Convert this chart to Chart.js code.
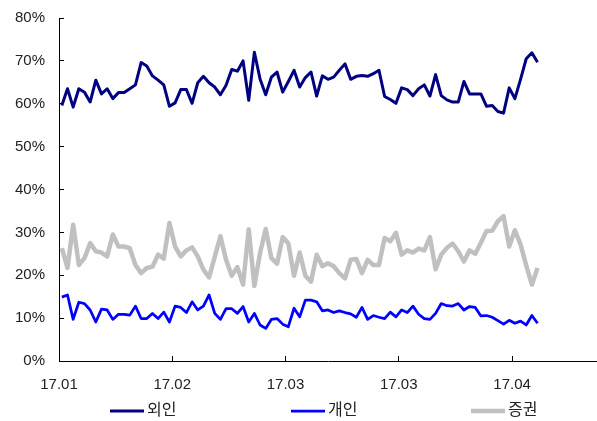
<!DOCTYPE html>
<html>
<head>
<meta charset="utf-8">
<script src="https://cdn.jsdelivr.net/npm/chart.js@4.4.1/dist/chart.umd.min.js"></script>
<style>
  html, body { margin: 0; padding: 0; background: #ffffff; }
  #wrap { width: 597px; height: 421px; }
</style>
</head>
<body>
<div id="wrap"><canvas id="c" width="597" height="421"></canvas></div>
<script>
// Axis ticks (category index where each month label sits) and their labels
const tickPositions = [0, 20, 40, 60, 80];
const tickLabels = ['17.01', '17.02', '17.03', '17.03', '17.04'];
const categoryCount = 95;

// Series names
const seriesNames = ['외인', '개인', '증권'];

// Daily share by investor type, %
const foreign = [
  59.6, 63.5, 59.2, 63.5, 62.7, 60.4, 65.5, 62.3, 63.5, 61.2,
  62.6, 62.6, 63.5, 64.4, 69.6, 68.8, 66.5, 65.5, 64.4, 59.4,
  60.2, 63.3, 63.3, 60.1, 64.9, 66.4, 64.9, 63.9, 62.1, 64.3,
  68.0, 67.6, 70.0, 60.8, 72.0, 65.8, 62.1, 66.2, 67.4, 62.7,
  65.2, 67.8, 63.9, 66.1, 67.4, 61.8, 66.5, 65.7, 66.2, 67.8,
  69.3, 65.7, 66.4, 66.6, 66.4, 67.0, 67.8, 61.7, 61.0, 60.1,
  63.7, 63.3, 61.9, 63.5, 64.4, 61.8, 66.8, 61.9, 60.9, 60.4,
  60.4, 65.2, 62.3, 62.3, 62.3, 59.4, 59.6, 58.2, 57.8, 63.7,
  61.2, 65.7, 70.5, 71.9, 69.7
];
const individual = [
  14.9, 15.4, 9.7, 13.7, 13.4, 11.9, 9.1, 12.1, 11.9, 9.7,
  10.9, 10.9, 10.7, 12.8, 9.9, 9.9, 11.1, 9.9, 11.4, 9.1,
  12.8, 12.5, 11.3, 13.8, 11.9, 12.8, 15.4, 11.1, 9.7, 12.2,
  12.2, 11.1, 12.7, 9.1, 11.1, 8.4, 7.6, 9.7, 9.9, 8.6,
  8.0, 12.3, 10.3, 14.2, 14.2, 13.8, 11.7, 11.9, 11.3, 11.7,
  11.3, 11.0, 10.2, 12.5, 9.7, 10.6, 10.2, 9.9, 11.4, 10.3,
  11.9, 11.3, 12.8, 10.9, 9.9, 9.7, 11.1, 13.4, 12.9, 12.8,
  13.4, 11.9, 12.7, 12.5, 10.5, 10.6, 10.2, 9.4, 8.6, 9.5,
  8.8, 9.3, 8.4, 10.6, 8.8
];
const securities = [
  26.3, 21.7, 31.8, 22.4, 24.0, 27.5, 25.6, 25.3, 24.4, 29.5,
  26.7, 26.7, 26.3, 22.4, 20.5, 21.7, 22.0, 24.8, 23.9, 32.2,
  26.7, 24.4, 25.8, 26.5, 24.4, 21.3, 19.5, 24.3, 29.1, 23.6,
  19.9, 21.9, 17.8, 30.7, 17.5, 25.2, 30.8, 24.0, 22.7, 28.9,
  27.4, 19.9, 25.3, 19.9, 18.5, 24.8, 22.1, 22.8, 22.1, 20.5,
  19.3, 23.6, 23.8, 20.5, 23.6, 22.4, 22.4, 28.7, 27.9, 29.9,
  24.8, 25.8, 25.3, 26.2, 25.8, 28.9, 21.4, 24.8, 26.4, 27.4,
  25.6, 23.2, 25.8, 25.0, 27.6, 30.3, 30.4, 32.6, 33.8, 26.7,
  30.5, 27.2, 22.3, 17.8, 21.7
];

// Each value sits in the middle of its day slot on the linear x scale
const toPoints = arr => arr.map((v, i) => ({ x: i + 0.5, y: v }));

const FONT_FAMILY = "'Liberation Sans', Arial, 'Noto Sans CJK KR', sans-serif";
const TEXT_COLOR = '#222222';

// Legend row drawn under the axis: short line sample followed by the series name
const legendRow = {
  id: 'legendRow',
  afterDraw(chart, args, opts) {
    const ctx = chart.ctx;
    ctx.save();
    ctx.font = opts.font;
    ctx.textBaseline = 'middle';
    ctx.textAlign = 'left';
    chart.data.datasets.forEach((ds, i) => {
      const x = opts.starts[i];
      ctx.strokeStyle = ds.borderColor;
      ctx.lineWidth = ds.borderWidth;
      ctx.lineCap = 'butt';
      ctx.beginPath();
      ctx.moveTo(x, opts.y);
      ctx.lineTo(x + opts.lineLength, opts.y);
      ctx.stroke();
      ctx.fillStyle = opts.color;
      ctx.fillText(ds.label, x + opts.lineLength + opts.gap, opts.y);
    });
    ctx.restore();
  }
};

new Chart(document.getElementById('c'), {
  type: 'line',
  data: {
    datasets: [
      { label: seriesNames[0], data: toPoints(foreign), borderColor: '#000080', backgroundColor: '#000080', borderWidth: 3 },
      { label: seriesNames[1], data: toPoints(individual), borderColor: '#0000FF', backgroundColor: '#0000FF', borderWidth: 2.75 },
      { label: seriesNames[2], data: toPoints(securities), borderColor: '#C0C0C0', backgroundColor: '#C0C0C0', borderWidth: 4.5 }
    ]
  },
  options: {
    responsive: false,
    animation: false,
    devicePixelRatio: 1,
    layout: { padding: { top: 18, right: 0, bottom: 0, left: 0 } },
    elements: {
      point: { radius: 0, hoverRadius: 0 },
      line: { tension: 0, borderJoinStyle: 'round', fill: false }
    },
    plugins: {
      legend: { display: false },
      tooltip: { enabled: false },
      legendRow: {
        starts: [110, 291, 471],
        y: 411,
        lineLength: 34,
        gap: 3,
        font: "16px " + FONT_FAMILY,
        color: TEXT_COLOR
      }
    },
    scales: {
      x: {
        type: 'linear',
        min: 0,
        max: categoryCount,
        afterBuildTicks: scale => { scale.ticks = tickPositions.map(v => ({ value: v })); },
        afterFit: scale => { scale.height = 60; },
        ticks: {
          autoSkip: false,
          maxRotation: 0,
          padding: 20,
          color: TEXT_COLOR,
          font: { family: FONT_FAMILY, size: 15 },
          callback: v => tickLabels[tickPositions.indexOf(v)]
        },
        grid: { drawOnChartArea: false, drawTicks: true, tickLength: -5, color: '#000000', lineWidth: 1 },
        border: { display: true, color: '#000000', width: 1 }
      },
      y: {
        min: 0,
        max: 80,
        afterFit: scale => {
          scale.width = 59;
          scale.paddingTop = 0;
          scale.paddingBottom = 0;
        },
        ticks: {
          stepSize: 10,
          padding: 19,
          color: TEXT_COLOR,
          font: { family: FONT_FAMILY, size: 15 },
          callback: v => v + '%'
        },
        grid: { drawOnChartArea: false, drawTicks: true, tickLength: -5, color: '#000000', lineWidth: 1 },
        border: { display: true, color: '#000000', width: 1 }
      }
    }
  },
  plugins: [legendRow]
});
</script>
</body>
</html>
